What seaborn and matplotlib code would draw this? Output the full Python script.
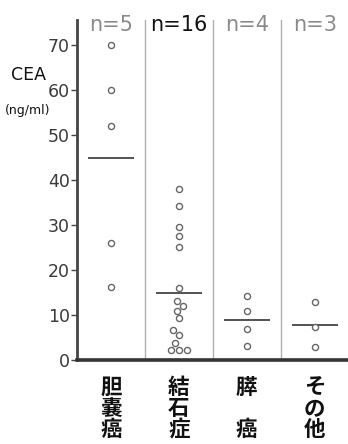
import numpy as np
import pandas as pd
import matplotlib
matplotlib.use("Agg")
import matplotlib.pyplot as plt
import seaborn as sns
from matplotlib import font_manager

# CEA values (ng/ml) for each diagnosis group
groups = ["胆嚢癌", "結石症", "膵癌", "その他"]
cea_gallbladder = [70, 60, 52, 26, 16.3]
cea_stones = [37.9, 34.2, 29.6, 27.5, 25.2, 15.9, 13.2, 12.0, 11.0, 9.4,
              6.7, 5.5, 3.7, 2.2, 2.2, 2.2]
cea_pancreas = [14.2, 10.9, 7.0, 3.2]
cea_other = [12.9, 7.4, 3.0]
yticks = [0, 10, 20, 30, 40, 50, 60, 70]

values = [cea_gallbladder, cea_stones, cea_pancreas, cea_other]
df = pd.DataFrame({
    "group": np.repeat(groups, [len(v) for v in values]),
    "cea": np.concatenate(values),
})

sns.set_theme(style="white")
names = {f.name for f in font_manager.fontManager.ttflist}
narrow = "Liberation Sans Narrow" if "Liberation Sans Narrow" in names else "DejaVu Sans"
plt.rcParams["font.family"] = [narrow, "Noto Sans CJK JP", "DejaVu Sans"]

fig = plt.figure(figsize=(3.48, 4.44), dpi=100)
ax = fig.add_axes([0.221, 0.189, 0.781, 0.766])

sns.swarmplot(data=df, x="group", y="cea", order=groups, ax=ax,
              color="white", edgecolor="#666666", linewidth=1.0, size=4.4)

# group means as short horizontal bars
means = df.groupby("group")["cea"].mean().reindex(groups)
for i, m in enumerate(means):
    ax.hlines(m, i - 0.34, i + 0.34, color="#444444", lw=1.3, zorder=1)

# thin separators between groups
for xs in [0.5, 1.5, 2.5]:
    ax.axvline(xs, color="#b0b0b0", lw=1.0, zorder=0)

ax.set_xlim(-0.5, 3.5)
ax.set_ylim(0, 75.5)
ax.set_yticks(yticks)
ax.set_yticklabels([str(t) for t in yticks], fontsize=12.5, color="#3a3a3a",
                   family=[narrow, "DejaVu Sans"])
ax.tick_params(axis="y", direction="out", length=4, width=1, color="#444444",
               left=True, pad=1)
ax.tick_params(axis="x", length=0, pad=12)

for s in ["top", "right"]:
    ax.spines[s].set_visible(False)
ax.spines["left"].set_color("#444444")
ax.spines["left"].set_linewidth(2.0)
ax.spines["bottom"].set_color("#333333")
ax.spines["bottom"].set_linewidth(2.6)

# vertical category labels
def stack(name):
    return "\n\n".join(name) if len(name) == 2 else "\n".join(name)

ax.set_xticks(range(len(groups)))
ax.set_xticklabels([stack(g) for g in groups], fontsize=15.5, fontweight="bold",
                   family=["Noto Sans CJK JP", "DejaVu Sans"],
                   linespacing=1.0, va="top", color="#111111")
ax.set_xlabel("")
ax.set_ylabel("")

# sample sizes along the top
counts = [len(v) for v in values]
for i, n in enumerate(counts):
    strong = (n == max(counts))
    ax.text(i, 74.4, f"n={n}", ha="center", va="center", fontsize=15,
            color="#111111" if strong else "#8a8a8a",
            family=[narrow, "DejaVu Sans"])

fig.text(0.083, 0.831, "CEA", ha="center", va="center", fontsize=12.5,
         color="#111111", family=[narrow, "DejaVu Sans"])
fig.text(0.078, 0.752, "(ng/ml)", ha="center", va="center", fontsize=9,
         color="#111111", family=[narrow, "DejaVu Sans"])

fig.savefig("out.png", dpi=100, facecolor="white")
